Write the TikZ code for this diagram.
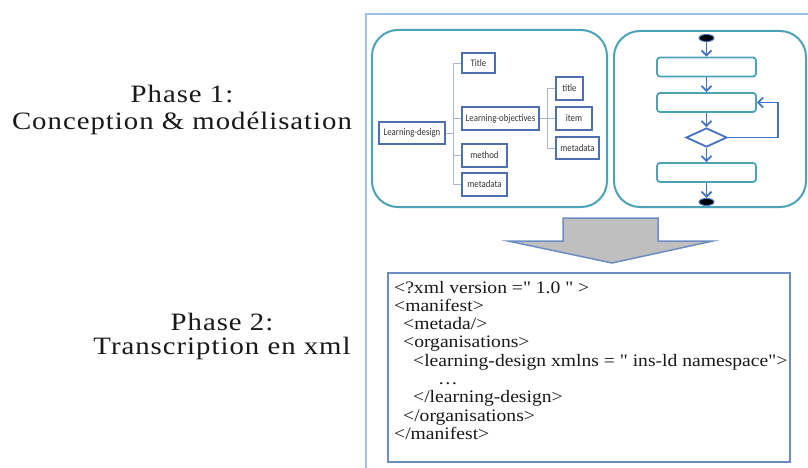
\documentclass[tikz,border=0pt]{standalone}
\usepackage{fontspec}
\setmainfont{Liberation Serif}
\newfontfamily\serifwide[FakeStretch=1.12]{Liberation Serif}
\newfontfamily\phasefont[FakeStretch=1.15,LetterSpace=4]{Liberation Serif}
\newfontfamily\labelfont[FakeStretch=0.88]{Carlito}
\usetikzlibrary{arrows.meta,shapes.geometric}

\definecolor{framecol}{HTML}{9DC3E6}
\definecolor{panelcol}{HTML}{4BA3B8}
\definecolor{boxcol}{HTML}{4F6FAF}
\definecolor{flowblue}{HTML}{4472C4}
\definecolor{linkcol}{HTML}{A9B9CC}
\definecolor{arrowfill}{HTML}{BFBFBF}
\definecolor{xmlframe}{HTML}{6E8CC4}
\definecolor{labeltext}{HTML}{333333}

\tikzset{
  panel/.style={draw=panelcol, line width=2pt, rounded corners=26pt},
  treebox/.style={draw=boxcol, line width=1.2pt, fill=white, inner sep=0pt,
    font=\labelfont\fontsize{10}{11}\selectfont, text=labeltext},
  treelink/.style={draw=linkcol, line width=0.8pt},
  flowbox/.style={draw=panelcol, line width=1.8pt, rounded corners=3pt,
    minimum width=99pt, minimum height=19pt, inner sep=0pt},
  flowend/.style={ellipse, draw=flowblue, fill=black, line width=1pt,
    minimum width=15pt, minimum height=7pt, inner sep=0pt},
  flowdia/.style={diamond, draw=flowblue, line width=1.8pt, aspect=2.16,
    minimum width=41pt, minimum height=19pt, inner sep=0pt},
  flowarrow/.style={draw=flowblue, line width=1.8pt,
    -{Straight Barb[length=5pt,width=10pt,line width=1.8pt]}},
  phasetext/.style={anchor=base, font=\phasefont\fontsize{25}{28}\selectfont, text=black!90},
  xmlline/.style={anchor=base west, inner sep=0pt, font=\serifwide\fontsize{17.5}{18}\selectfont, text=black!90},
}

\begin{document}
\begin{tikzpicture}[x=1pt,y=-1pt]
  \useasboundingbox (0,0) rectangle (808,468);
  \fill[white] (0,0) rectangle (808,468);

  % outer frame of the right-hand column
  \draw[framecol, line width=1.5pt] (366,468) -- (366,14) -- (808,14);

  % phase captions
  \node[phasetext] (p1a) at (182,103) {Phase 1:};
  \node[phasetext] (p1b) at (182,130) {Conception \& modélisation};
  \node[phasetext] (p2a) at (222,330) {Phase 2:};
  \node[phasetext] (p2b) at (222,354) {Transcription en xml};

  % two rounded panels
  \draw[panel] (372,30) rectangle (607,207);
  \draw[panel] (614,31) rectangle (806,207);

  % tree of the learning design
  \node[treebox, minimum width=66pt, minimum height=22pt] (ld) at (412,133) {Learning-design};
  \node[treebox, minimum width=33pt, minimum height=20pt] (ttl) at (478.5,63) {Title};
  \node[treebox, minimum width=77pt, minimum height=23pt] (lo) at (500.5,118.5) {Learning-objectives};
  \node[treebox, minimum width=45pt, minimum height=23pt] (meth) at (484.5,155.5) {method};
  \node[treebox, minimum width=45pt, minimum height=23pt] (mdA) at (484.5,184.5) {metadata};
  \node[treebox, minimum width=27pt, minimum height=23pt] (tl) at (569.5,88.5) {title};
  \node[treebox, minimum width=36pt, minimum height=23pt] (itm) at (574,118.5) {item};
  \node[treebox, minimum width=43pt, minimum height=22pt] (mdB) at (577.5,148) {metadata};

  \coordinate (busA) at (453,0);
  \coordinate (busB) at (547,0);
  \draw[treelink] (ld.east) -- (ld.east -| busA);
  \draw[treelink] (busA |- ttl) -- (busA |- mdA);
  \foreach \n in {ttl,lo,meth,mdA} \draw[treelink] (busA |- \n) -- (\n.west);
  \draw[treelink] (lo.east) -- (lo.east -| busB);
  \draw[treelink] (busB |- tl) -- (busB |- mdB);
  \foreach \n in {tl,itm,mdB} \draw[treelink] (busB |- \n) -- (\n.west);

  % activity flow
  \node[flowend] (st) at (706.5,38) {};
  \node[flowbox] (f1) at (706.5,67) {};
  \node[flowbox] (f2) at (706.5,102.5) {};
  \node[flowdia] (dc) at (706.5,137.5) {};
  \node[flowbox] (f3) at (706.5,172.5) {};
  \node[flowend] (en) at (706.5,202) {};
  \draw[flowarrow] (st) -- (f1);
  \draw[flowarrow] (f1) -- (f2);
  \draw[flowarrow] (f2) -- (dc);
  \draw[flowarrow] (dc) -- (f3);
  \draw[flowarrow] (f3) -- (en);
  \coordinate (loop) at (778,0);
  \draw[flowarrow] (dc.east) -- (dc.east -| loop) -- (loop |- f2) -- (f2.east);

  % transition arrow
  \draw[draw=xmlframe, fill=arrowfill, line width=1.5pt, line join=miter]
    (563,218) -- (658,218) -- (658,241) -- (713,241) -- (612,263)
    -- (508,241) -- (563,241) -- cycle;

  % xml listing
  \draw[xmlframe, line width=1.5pt] (388,273) rectangle (790,462);
  \node[xmlline] (x1) at (394,293) {<?xml version =" 1.0 " >};
  \node[xmlline] (x2) at (394,311.3) {<manifest>};
  \node[xmlline] (x3) at (403,329.6) {<metada/>};
  \node[xmlline] (x4) at (403,347.9) {<organisations>};
  \node[xmlline] (x5) at (413,366.2) {<learning-design xmlns = " ins-ld namespace">};
  \node[xmlline] (x6) at (438,384.5) {\dots};
  \node[xmlline] (x7) at (413,402.8) {</learning-design>};
  \node[xmlline] (x8) at (403,421.1) {</organisations>};
  \node[xmlline] (x9) at (394,439.4) {</manifest>};
\end{tikzpicture}
\end{document}
